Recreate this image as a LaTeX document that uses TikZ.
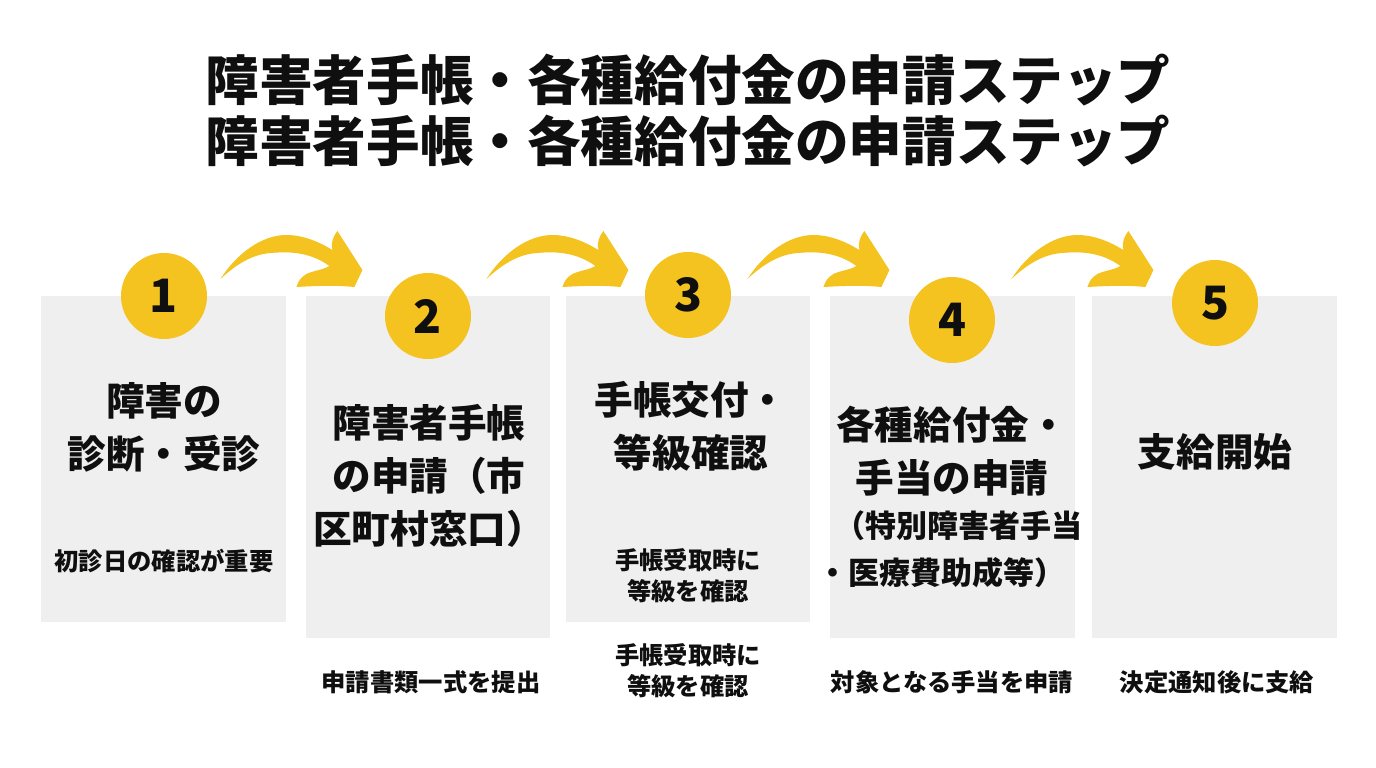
\documentclass[tikz,border=0pt]{standalone}
\usepackage{fontspec}
\setmainfont{Noto Sans CJK JP}
\usetikzlibrary{positioning}
\definecolor{StepYellow}{RGB}{244,195,32}
\definecolor{CardGray}{RGB}{239,239,239}
\definecolor{InkColor}{RGB}{15,15,15}
\tikzset{
  card/.style={fill=CardGray, draw=none, rectangle, inner sep=0pt, anchor=north west},
  badge/.style={fill=StepYellow, draw=none, circle, minimum size=86pt, inner sep=0pt, text=InkColor, font=\fontsize{46}{50}\selectfont\bfseries},
  headline/.style={text=InkColor, font=\fontsize{53.6}{60}\selectfont\bfseries, inner sep=0pt},
  cardtitle/.style={text=InkColor, align=center, font=\fontsize{38.6}{53}\selectfont\bfseries, inner sep=0pt},
  cardextra/.style={text=InkColor, font=\fontsize{31}{36}\selectfont\bfseries, inner sep=0pt},
  cardnote/.style={text=InkColor, align=center, font=\fontsize{24.3}{31}\selectfont\bfseries, inner sep=0pt}
}
\newcommand{\flowarrow}[2]{%
  \begin{scope}[shift={(#1.north east)}, xshift=#2pt]
    \fill[StepYellow]
    (-66,-17)
    .. controls (-50,-42) and (-25,-61) .. (0,-61)
    .. controls (17,-61) and (33,-54) .. (46,-46)
    .. controls (44,-53) and (47,-60) .. (51,-65)
    -- (76,-26) -- (68,-9)
    .. controls (48,-11) and (28,-10) .. (10,-9)
    .. controls (13,-18) and (18,-22) .. (25,-24)
    .. controls (32,-26) and (38,-27) .. (43,-30)
    .. controls (25,-43) and (5,-45) .. (-15,-43)
    .. controls (-35,-42) and (-52,-30) .. (-66,-17)
    -- cycle;
  \end{scope}
}

\begin{document}
\begin{tikzpicture}[x=1pt, y=-1pt]
  \useasboundingbox (0,0) rectangle (1376,768);

  % Title
  \node[headline] (title1) at (688,80) {障害者手帳・各種給付金の申請ステップ};
  \node[headline] (title2) at (688,141) {障害者手帳・各種給付金の申請ステップ};

  % Cards
  \node[card, minimum width=245pt, minimum height=326pt] (box1) at (41,296) {};
  \node[card, minimum width=244pt, minimum height=342pt] (box2) at (306,296) {};
  \node[card, minimum width=244pt, minimum height=326pt] (box3) at (566,296) {};
  \node[card, minimum width=245pt, minimum height=342pt] (box4) at (830,296) {};
  \node[card, minimum width=245pt, minimum height=342pt] (box5) at (1092,296) {};

  % Arrows between the steps
  \flowarrow{box1}{0}
  \flowarrow{box2}{2}
  \flowarrow{box3}{3}
  \flowarrow{box4}{2}

  % Number badges
  \node[badge] (num1) at (164,296) {1};
  \node[badge] (num2) at (428,316) {2};
  \node[badge] (num3) at (688,295) {3};
  \node[badge] (num4) at (952,320) {4};
  \node[badge] (num5) at (1215,303) {5};

  % Step 1
  \node[cardtitle] (title-a) at (164,427) {障害の\\診断・受診};
  \node[cardnote] (note-a) at (164,561) {初診日の確認が重要};

  % Step 2
  \node[cardtitle] (title-b) at (429,476) {障害者手帳\\の申請（市\\区町村窓口）};
  \node[cardnote] (note-b) at (431,682) {申請書類一式を提出};

  % Step 3
  \node[cardtitle] (title-c) at (691,426) {手帳交付・\\等級確認};
  \node[cardnote] (note-c) at (688,576) {手帳受取時に\\等級を確認};
  \node[cardnote] (note-d) at (688,671) {手帳受取時に\\等級を確認};

  % Step 4
  \node[cardtitle] (title-e) at (952,451) {各種給付金・\\手当の申請};
  \node[cardextra] (extra-a) at (958,526) {（特別障害者手当};
  \node[cardextra] (extra-b) at (941,573) {・医療費助成等）};
  \node[cardnote] (note-e) at (952,682) {対象となる手当を申請};

  % Step 5
  \node[cardtitle] (title-f) at (1215,452) {支給開始};
  \node[cardnote] (note-f) at (1217,682) {決定通知後に支給};
\end{tikzpicture}
\end{document}
